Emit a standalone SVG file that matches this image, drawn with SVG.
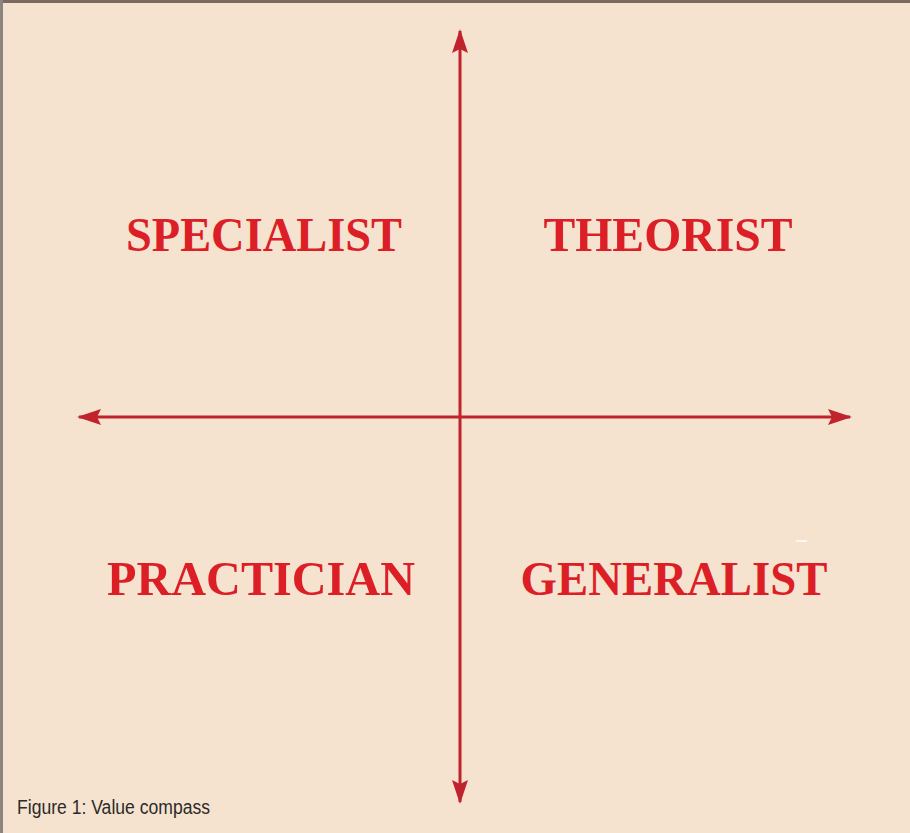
<svg xmlns="http://www.w3.org/2000/svg" width="910" height="833" viewBox="0 0 910 833">
<style>
.lbl{font-family:"Liberation Serif","DejaVu Serif",serif;font-weight:bold;font-size:49px;fill:#DC1F27;text-anchor:middle}
.axis{stroke:#C0232C;stroke-width:3;fill:none}
.cap{font-family:"Liberation Sans Narrow","Liberation Sans",Arial,sans-serif;font-size:20px;fill:#2b2b2b}
</style>
<defs>
<marker id="ah" viewBox="0 0 24 16" refX="22" refY="8" markerWidth="24" markerHeight="16" markerUnits="userSpaceOnUse" orient="auto">
<path d="M0,0 L24,8 L0,16 L4,8 Z" fill="#C0232C"/>
</marker>
</defs>
<rect width="910" height="833" fill="#F5E3CF"/>
<rect x="0" y="0" width="910" height="3" fill="#7a6a60"/>
<rect x="0" y="0" width="3" height="833" fill="#8a8580"/>
<g id="connectors">
<line class="axis" x1="460" y1="417" x2="460" y2="31" marker-end="url(#ah)"/>
<line class="axis" x1="460" y1="417" x2="460" y2="802" marker-end="url(#ah)"/>
<line class="axis" x1="460" y1="417" x2="79" y2="417" marker-end="url(#ah)"/>
<line class="axis" x1="460" y1="417" x2="850" y2="417" marker-end="url(#ah)"/>
</g>
<g id="specialist"><text class="lbl" x="264" y="251" textLength="276" lengthAdjust="spacingAndGlyphs">SPECIALIST</text></g>
<g id="theorist"><text class="lbl" x="668" y="251" textLength="249" lengthAdjust="spacingAndGlyphs">THEORIST</text></g>
<g id="practician"><text class="lbl" x="261" y="595" textLength="308" lengthAdjust="spacingAndGlyphs">PRACTICIAN</text></g>
<g id="generalist"><text class="lbl" x="674" y="595" textLength="307" lengthAdjust="spacingAndGlyphs">GENERALIST</text></g>
<rect x="796" y="540" width="11" height="2" fill="#ffffff" opacity="0.7"/>
<g id="caption"><text class="cap" x="17" y="814" textLength="193" lengthAdjust="spacingAndGlyphs">Figure 1: Value compass</text></g>
</svg>
